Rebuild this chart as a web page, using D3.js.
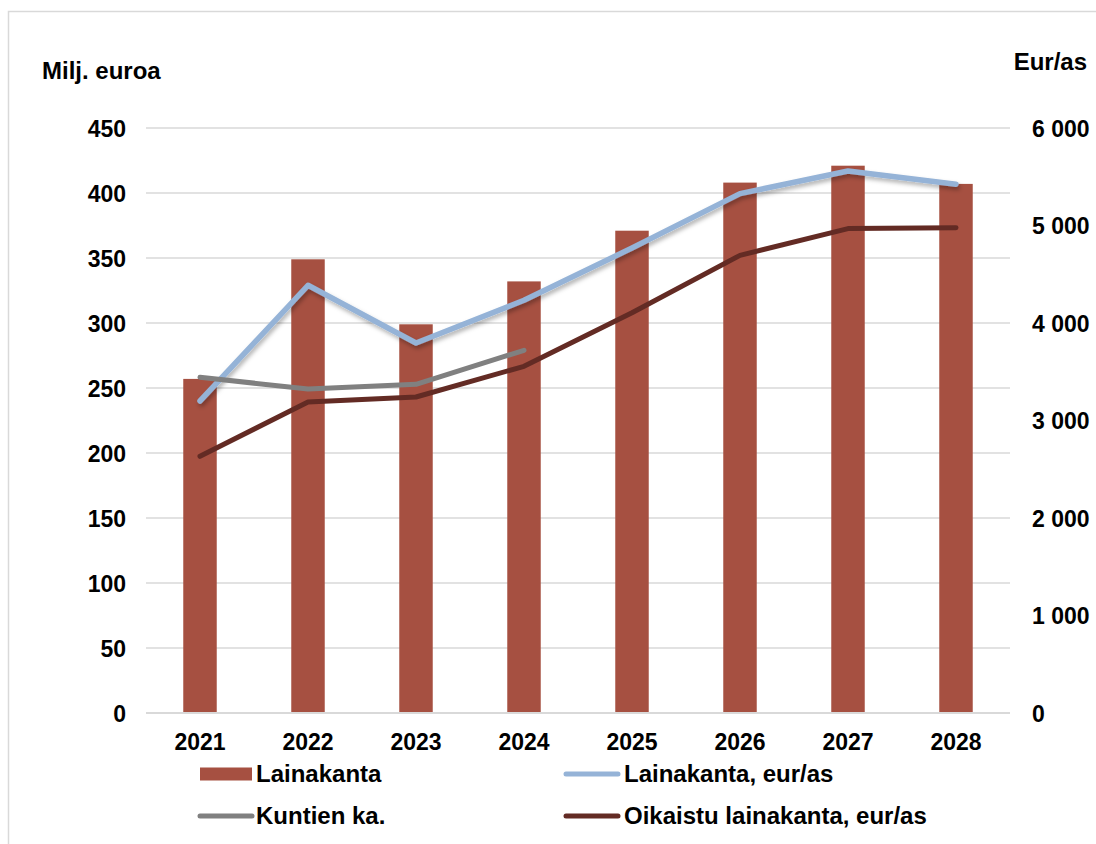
<!DOCTYPE html>
<html><head><meta charset="utf-8">
<script src="https://cdn.jsdelivr.net/npm/d3@7"></script>
<style>
html,body{margin:0;padding:0;background:#fff;}
text{font-family:"Liberation Sans",Arial,sans-serif;font-weight:bold;fill:#000;}
</style></head>
<body><svg id="chart" width="1096" height="844"></svg>
<script>
const years = ["2021","2022","2023","2024","2025","2026","2027","2028"];
const lainakanta = [257, 349, 299, 332, 371, 408, 421, 407];           // Milj. euroa
const lainakantaEurAs = [3200, 4387, 3795, 4233, 4770, 5327, 5559, 5423];
const kuntienKa = [3443, 3323, 3371, 3720];
const oikaistu = [2633, 3190, 3241, 3556, 4105, 4694, 4968, 4978];
const leftTicks = [0,50,100,150,200,250,300,350,400,450];
const rightTicks = [0,1000,2000,3000,4000,5000,6000];

const svg = d3.select("#chart");
const defs = svg.append("defs");
const f = defs.append("filter").attr("id","shadow").attr("x","-10%").attr("y","-10%").attr("width","120%").attr("height","140%");
f.append("feDropShadow").attr("dx",1.5).attr("dy",3).attr("stdDeviation",2).attr("flood-color","#000").attr("flood-opacity",0.3);

svg.append("rect").attr("x",8.5).attr("y",11.5).attr("width",1200).attr("height",1000)
  .attr("fill","none").attr("stroke","#d9d9d9").attr("stroke-width",1.5);

const x0 = 146, x1 = 1010, yTop = 128, yBot = 713;
const x = d3.scaleBand().domain(years).range([x0,x1]).paddingInner(0.69).paddingOuter(0.345);
const xc = d => x(d) + x.bandwidth()/2;
const yL = d3.scaleLinear().domain([0,450]).range([yBot,yTop]);
const yR = d3.scaleLinear().domain([0,6000]).range([yBot,yTop]);

// gridlines
svg.append("g").selectAll("line").data(leftTicks.filter(d=>d>0)).join("line")
  .attr("x1",x0).attr("x2",x1).attr("y1",d=>yL(d)).attr("y2",d=>yL(d))
  .attr("stroke","#d9d9d9").attr("stroke-width",1.5);

// bars
svg.append("g").selectAll("rect").data(lainakanta).join("rect")
  .attr("x",(d,i)=>x(years[i])).attr("width",x.bandwidth())
  .attr("y",d=>yL(d)).attr("height",d=>yBot-yL(d))
  .attr("fill","#A65041");

// baseline
svg.append("line").attr("x1",x0).attr("x2",x1).attr("y1",yBot).attr("y2",yBot)
  .attr("stroke","#d9d9d9").attr("stroke-width",2);

const FS = 23;
// left axis
const leftAxis = d3.axisLeft(yL).tickValues(leftTicks).tickSize(0).tickPadding(0).tickFormat(d3.format("d"));
const gL = svg.append("g").attr("transform","translate(126,0)").call(leftAxis);
gL.select(".domain").remove();
gL.selectAll("text").attr("font-size",FS).attr("font-family","Liberation Sans, Arial, sans-serif").attr("font-weight","bold").attr("fill","#000").attr("dy","0.36em");

// right axis
const fmtR = d => d===0 ? "0" : d3.format(",")(d).replace(/,/g," ");
const rightAxis = d3.axisRight(yR).tickValues(rightTicks).tickSize(0).tickPadding(0).tickFormat(fmtR);
const gR = svg.append("g").attr("transform","translate(1032,0)").call(rightAxis);
gR.select(".domain").remove();
gR.selectAll("text").attr("font-size",FS).attr("font-family","Liberation Sans, Arial, sans-serif").attr("font-weight","bold").attr("fill","#000").attr("dy","0.36em");

// bottom axis
const bottomAxis = d3.axisBottom(x).tickSize(0).tickPadding(0);
const gB = svg.append("g").attr("transform","translate(0,"+yBot+")").call(bottomAxis);
gB.select(".domain").remove();
gB.selectAll("text").attr("font-size",FS).attr("font-family","Liberation Sans, Arial, sans-serif").attr("font-weight","bold").attr("fill","#000").attr("dy",null).attr("y",37);

// lines
function drawLine(vals, color, width, shadow){
  const line = d3.line().x((d,i)=>xc(years[i])).y(d=>yR(d));
  const p = svg.append("path").datum(vals).attr("d",line).attr("fill","none")
    .attr("stroke",color).attr("stroke-width",width).attr("stroke-linecap","round").attr("stroke-linejoin","round");
  if(shadow) p.attr("filter","url(#shadow)");
}
drawLine(lainakantaEurAs, "#95B3D7", 5.5, true);
drawLine(kuntienKa, "#808080", 5, false);
drawLine(oikaistu, "#632B24", 5, false);

// axis titles
svg.append("text").attr("x",42).attr("y",79).attr("font-size",24).text("Milj. euroa");
svg.append("text").attr("x",1087).attr("y",70).attr("font-size",24).attr("text-anchor","end").text("Eur/as");

// legend
const leg = [
  {name:"Lainakanta", type:"rect", color:"#A65041", sx:200, tx:256, y:774},
  {name:"Lainakanta, eur/as", type:"line", color:"#95B3D7", sx:564, tx:624, y:774},
  {name:"Kuntien ka.", type:"line", color:"#808080", sx:198, tx:256, y:816},
  {name:"Oikaistu lainakanta, eur/as", type:"line", color:"#632B24", sx:564, tx:624, y:816}
];
const lg = svg.append("g");
leg.forEach(l=>{
  if(l.type==="rect"){
    lg.append("rect").attr("x",l.sx).attr("y",l.y-6.5).attr("width",52).attr("height",13).attr("fill",l.color);
  } else {
    lg.append("line").attr("x1",l.sx+2).attr("x2",l.sx+54).attr("y1",l.y).attr("y2",l.y)
      .attr("stroke",l.color).attr("stroke-width",5).attr("stroke-linecap","round");
  }
  lg.append("text").attr("x",l.tx).attr("y",l.y+8).attr("font-size",24).text(l.name);
});
</script></body></html>
